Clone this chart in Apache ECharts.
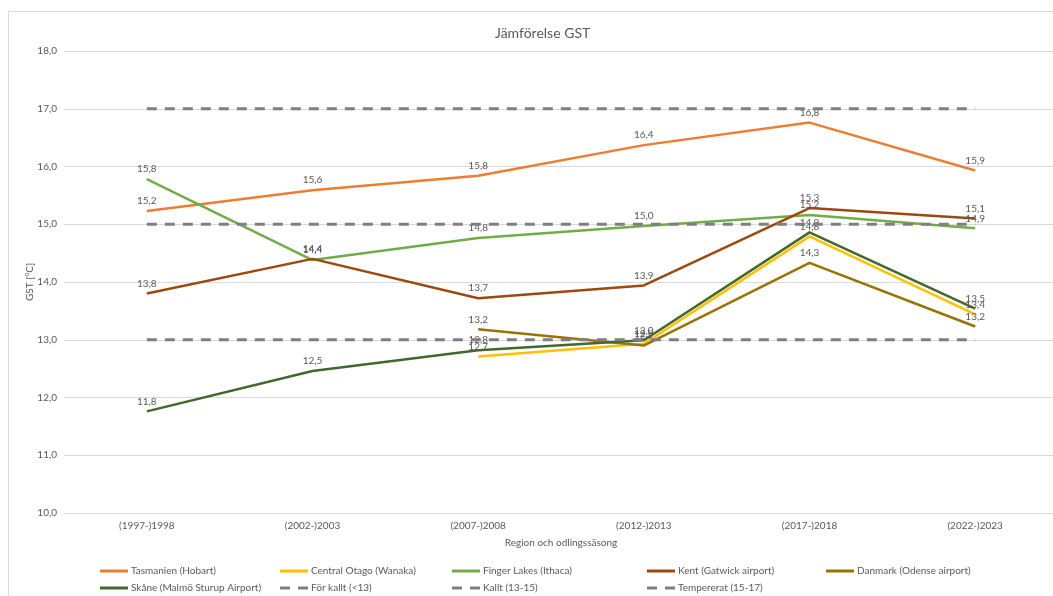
<!DOCTYPE html>
<html>
<head>
<meta charset="utf-8">
<script src="https://cdn.jsdelivr.net/npm/echarts@6/dist/echarts.min.js"></script>
<style>
  html, body { margin: 0; padding: 0; background: #ffffff; }
  #chart { width: 1053px; height: 596px; }
</style>
</head>
<body>
<div id="chart"></div>
<script>
// Growing season temperature (GST) per region and season
const categories = ['(1997-)1998', '(2002-)2003', '(2007-)2008', '(2012-)2013', '(2017-)2018', '(2022-)2023'];

const tasmanien = [15.23, 15.59, 15.84, 16.37, 16.76, 15.93];
const centralOtago = [null, null, 12.71, 12.93, 14.79, 13.44];
const fingerLakes = [15.78, 14.38, 14.76, 14.97, 15.16, 14.93];
const kent = [13.80, 14.40, 13.72, 13.94, 15.28, 15.10];
const danmark = [null, null, 13.18, 12.90, 14.33, 13.23];
const skane = [11.76, 12.46, 12.82, 12.99, 14.86, 13.54];

// Climate class limits
const forKallt = [13, 13, 13, 13, 13, 13];
const kallt = [15, 15, 15, 15, 15, 15];
const tempererat = [17, 17, 17, 17, 17, 17];

const yTicks = { min: 10, max: 18, interval: 1 };

const FONT = 'Lato, "Liberation Sans", sans-serif';
const TEXT = '#595959';

const fmt = v => v.toFixed(1).replace('.', ',');

// legend keys: a solid bar and a two-dash bar
const SOLID_ICON = 'path://M0,0h28v3h-28z';
const DASH_ICON = 'path://M0,0h10v3h-10z M18,0h10v3h-10z';

function dataSeries(name, data, color) {
  return {
    name, type: 'line', data,
    showSymbol: true, symbol: 'circle', symbolSize: 0,
    connectNulls: false,
    lineStyle: { color, width: 2.5 },
    itemStyle: { color },
    label: {
      show: true, position: 'top', distance: 5,
      color: TEXT, fontSize: 10, fontFamily: FONT,
      formatter: p => (p.value == null ? '' : fmt(p.value))
    },
    emphasis: { disabled: true },
    z: 2
  };
}

function limitSeries(name, data) {
  return {
    name, type: 'line', data,
    showSymbol: false, symbol: 'none',
    lineStyle: { color: '#7f7f7f', width: 3, type: [10, 8] },
    itemStyle: { color: '#7f7f7f' },
    emphasis: { disabled: true },
    z: 3
  };
}

const legendSlots = [
  ['Tasmanien (Hobart)', 100, 566, SOLID_ICON],
  ['Central Otago (Wanaka)', 280, 566, SOLID_ICON],
  ['Finger Lakes (Ithaca)', 452, 566, SOLID_ICON],
  ['Kent (Gatwick airport)', 647, 566, SOLID_ICON],
  ['Danmark (Odense airport)', 826, 566, SOLID_ICON],
  ['Skåne (Malmö Sturup Airport)', 100, 583, SOLID_ICON],
  ['För kallt (<13)', 280, 583, DASH_ICON],
  ['Kallt (13-15)', 452, 583, DASH_ICON],
  ['Tempererat (15-17)', 647, 583, DASH_ICON]
];

const chart = echarts.init(document.getElementById('chart'), null, { renderer: 'canvas' });

chart.setOption({
  backgroundColor: '#ffffff',
  animation: false,
  textStyle: { fontFamily: FONT },
  title: {
    text: 'Jämförelse GST',
    left: 490, top: 21,
    textStyle: { color: TEXT, fontSize: 14, fontWeight: 'normal', fontFamily: FONT }
  },
  graphic: [{
    type: 'rect', silent: true, z: -10,
    shape: { x: 8.5, y: 11.5, width: 1200, height: 700 },
    style: { fill: 'none', stroke: '#d9d9d9', lineWidth: 1 }
  }],
  legend: legendSlots.map(([name, left, top, icon]) => ({
    data: [{ name, icon }], left, top, padding: 0,
    itemWidth: 28, itemHeight: 3, itemGap: 0,
    selectedMode: false,
    textStyle: { color: TEXT, fontSize: 10, fontFamily: FONT, padding: [0, 0, 0, -2] }
  })),
  grid: {
    left: 64, right: -5, top: 51, bottom: 83,
    containLabel: false, outerBoundsMode: 'none'
  },
  xAxis: {
    type: 'category', data: categories, boundaryGap: true,
    name: 'Region och odlingssäsong', nameLocation: 'middle', nameGap: 25,
    nameMoveOverlap: false,
    nameTextStyle: { color: TEXT, fontSize: 10, fontFamily: FONT },
    axisLine: { show: true, lineStyle: { color: '#d9d9d9', width: 1 } },
    axisTick: { show: false },
    axisLabel: { color: TEXT, fontSize: 10, fontFamily: FONT, margin: 8 }
  },
  yAxis: {
    type: 'value', min: yTicks.min, max: yTicks.max, interval: yTicks.interval,
    name: 'GST [°C]', nameLocation: 'middle', nameGap: 29, nameRotate: 90,
    nameMoveOverlap: false,
    nameTextStyle: { color: TEXT, fontSize: 10, fontFamily: FONT },
    axisLine: { show: false },
    axisTick: { show: false },
    splitLine: { lineStyle: { color: '#d9d9d9', width: 1 } },
    axisLabel: { color: TEXT, fontSize: 10, fontFamily: FONT, margin: 7, formatter: v => fmt(v) }
  },
  series: [
    dataSeries('Tasmanien (Hobart)', tasmanien, '#ED7D31'),
    dataSeries('Central Otago (Wanaka)', centralOtago, '#FFC000'),
    dataSeries('Finger Lakes (Ithaca)', fingerLakes, '#70AD47'),
    dataSeries('Kent (Gatwick airport)', kent, '#9E480E'),
    dataSeries('Danmark (Odense airport)', danmark, '#997300'),
    dataSeries('Skåne (Malmö Sturup Airport)', skane, '#43682B'),
    limitSeries('För kallt (<13)', forKallt),
    limitSeries('Kallt (13-15)', kallt),
    limitSeries('Tempererat (15-17)', tempererat)
  ]
});
</script>
</body>
</html>
